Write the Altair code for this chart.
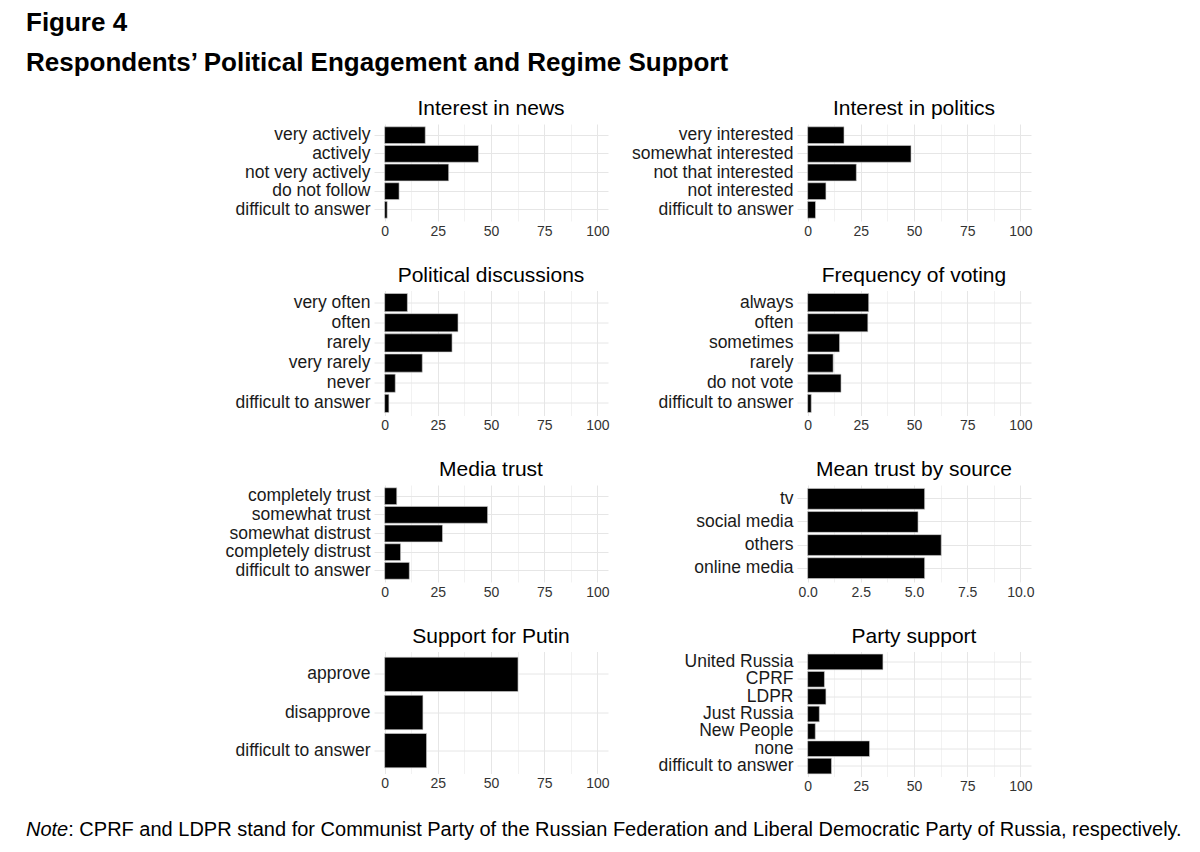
import altair as alt
import pandas as pd

FONT = "Liberation Sans"

# ---- data (percent of respondents / mean trust) ----
news_cat = ["very actively", "actively", "not very actively", "do not follow", "difficult to answer"]
news_val = [19.1, 44.1, 30.1, 6.8, 1.2]

politics_cat = ["very interested", "somewhat interested", "not that interested", "not interested", "difficult to answer"]
politics_val = [17.1, 48.6, 22.9, 8.6, 3.7]

disc_cat = ["very often", "often", "rarely", "very rarely", "never", "difficult to answer"]
disc_val = [10.7, 34.5, 31.7, 17.7, 5.0, 2.0]

vote_cat = ["always", "often", "sometimes", "rarely", "do not vote", "difficult to answer"]
vote_val = [28.7, 28.3, 15.0, 12.0, 15.7, 1.7]

media_cat = ["completely trust", "somewhat trust", "somewhat distrust", "completely distrust", "difficult to answer"]
media_val = [5.7, 48.4, 27.2, 7.5, 11.6]

source_cat = ["tv", "social media", "others", "online media"]
source_val = [5.5, 5.19, 6.28, 5.5]

putin_cat = ["approve", "disapprove", "difficult to answer"]
putin_val = [62.7, 18.0, 19.7]

party_cat = ["United Russia", "CPRF", "LDPR", "Just Russia", "New People", "none", "difficult to answer"]
party_val = [35.4, 7.9, 8.6, 5.5, 3.6, 29.1, 11.2]

pct_grid = [0, 12.5, 25, 37.5, 50, 62.5, 75, 87.5, 100]
src_grid = [0, 1.25, 2.5, 3.75, 5, 6.25, 7.5, 8.75, 10]

note_italic = "Note"
note_rest = ": CPRF and LDPR stand for Communist Party of the Russian Federation and Liberal Democratic Party of Russia, respectively."

LEFT_EXT = 366
RIGHT_EXT = 170
PW = 234
NOTE_SIZE = 20


def panel(title, cats, vals, height, extent, kind="pct"):
    df = pd.DataFrame({"cat": cats, "val": vals})
    if kind == "pct":
        domain = [-5, 105]
        grid_vals = pct_grid
        major = "datum.value % 25 === 0"
        label_expr = "datum.value % 25 === 0 ? format(datum.value, 'd') : ''"
    else:
        domain = [-0.5, 10.5]
        grid_vals = src_grid
        major = "datum.value % 2.5 === 0"
        label_expr = "datum.value % 2.5 === 0 ? format(datum.value, '.1f') : ''"
    return (
        alt.Chart(df)
        .mark_bar(color="black", stroke="#d0d0d0", strokeWidth=0.6)
        .encode(
            x=alt.X(
                "val:Q",
                title=None,
                scale=alt.Scale(domain=domain, nice=False, zero=False),
                axis=alt.Axis(
                    values=grid_vals,
                    labelExpr=label_expr,
                    grid=True,
                    gridColor={"condition": {"test": major, "value": "#e6e6e6"}, "value": "#f2f2f2"},
                    gridWidth=1,
                    ticks=False,
                    domain=False,
                    labelFont=FONT,
                    labelFontSize=14,
                    labelColor="#333333",
                    labelPadding=3,
                    labelFlush=False,
                    labelOverlap=False,
                ),
            ),
            y=alt.Y(
                "cat:N",
                title=None,
                sort=cats,
                scale=alt.Scale(paddingInner=0.1, paddingOuter=0.15),
                axis=alt.Axis(
                    grid=True,
                    gridColor="#e6e6e6",
                    gridWidth=1,
                    ticks=False,
                    domain=False,
                    bandPosition=0.5,
                    labelFont=FONT,
                    labelFontSize=17.5,
                    labelColor="#1a1a1a",
                    labelPadding=4,
                    labelLimit=400,
                    minExtent=extent,
                    maxExtent=extent,
                ),
            ),
        )
        .properties(
            width=PW,
            height=height,
            title=alt.TitleParams(
                title,
                anchor="middle",
                frame="group",
                font=FONT,
                fontSize=21,
                fontWeight="normal",
                color="black",
                offset=5,
            ),
        )
    )


row1 = alt.hconcat(
    panel("Interest in news", news_cat, news_val, 97, LEFT_EXT),
    panel("Interest in politics", politics_cat, politics_val, 97, RIGHT_EXT),
    spacing=17,
)
row2 = alt.hconcat(
    panel("Political discussions", disc_cat, disc_val, 125, LEFT_EXT),
    panel("Frequency of voting", vote_cat, vote_val, 125, RIGHT_EXT),
    spacing=17,
)
row3 = alt.hconcat(
    panel("Media trust", media_cat, media_val, 97, LEFT_EXT),
    panel("Mean trust by source", source_cat, source_val, 97, RIGHT_EXT, kind="src"),
    spacing=17,
)
row4 = alt.hconcat(
    panel("Support for Putin", putin_cat, putin_val, 122, LEFT_EXT),
    panel("Party support", party_cat, party_val, 125, RIGHT_EXT),
    spacing=17,
)

# note line (its origin is aligned with the left panels' plot origin)
note_df = pd.DataFrame({"italic": [note_italic], "rest": [note_rest]})
note_a = alt.Chart(note_df).mark_text(
    align="left", baseline="alphabetic", font=FONT, fontSize=NOTE_SIZE, fontStyle="italic", color="black"
).encode(text="italic:N", x=alt.value(26 - 374), y=alt.value(12))
note_b = alt.Chart(note_df).mark_text(
    align="left", baseline="alphabetic", font=FONT, fontSize=NOTE_SIZE, color="black"
).encode(text="rest:N", x=alt.value(26 - 374 + 2.112 * NOTE_SIZE), y=alt.value(12))
note = alt.layer(note_a, note_b).properties(width=PW, height=18)

chart = (
    alt.vconcat(row1, row2, row3, row4, note, spacing=26.5)
    .properties(
        padding={"left": 0, "top": 2, "right": 0, "bottom": 0},
        title=alt.TitleParams(
            text="Figure 4",
            subtitle="Respondents\u2019 Political Engagement and Regime Support",
            anchor="start",
            frame="bounds",
            font=FONT,
            subtitleFont=FONT,
            fontSize=26,
            subtitleFontSize=26,
            fontWeight="bold",
            subtitleFontWeight="bold",
            color="black",
            subtitleColor="black",
            subtitlePadding=14,
            offset=22,
            dx=18,
        ),
    )
    .configure(background="white")
    .configure_view(stroke="transparent", strokeWidth=0)
)

chart.save("out.html", embed_options={"renderer": "svg", "actions": False})
